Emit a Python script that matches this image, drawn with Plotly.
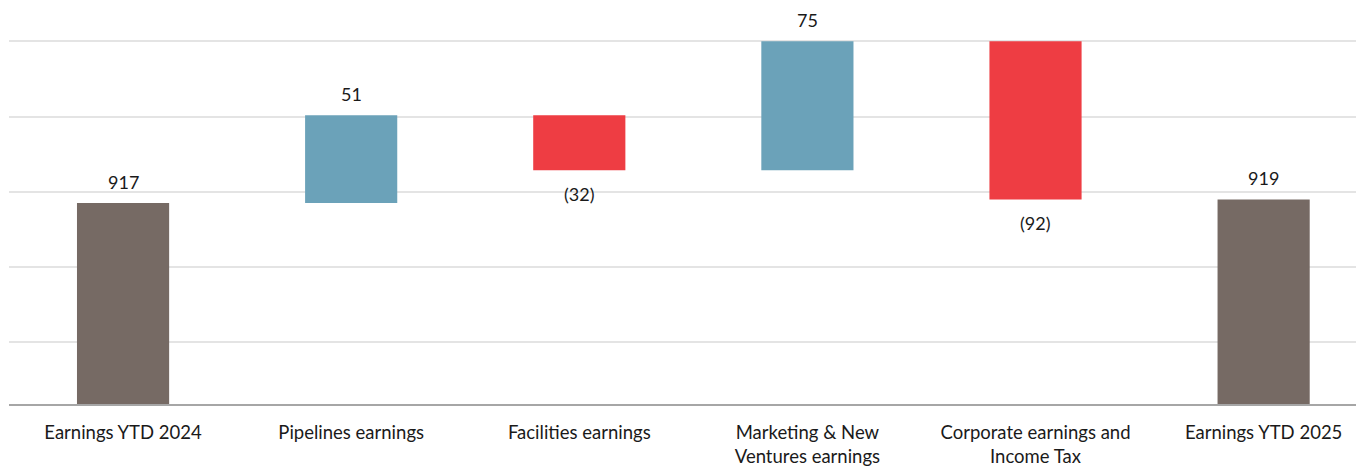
import plotly.graph_objects as go

categories = ["Earnings YTD 2024", "Pipelines earnings", "Facilities earnings",
              "Marketing & New<br>Ventures earnings", "Corporate earnings and<br>Income Tax",
              "Earnings YTD 2025"]
values = [917, 51, -32, 75, -92, 919]
measures = ["absolute", "relative", "relative", "relative", "relative", "total"]
labels = ["917", "51", "(32)", "75", "(92)", "919"]

BROWN = "#766A64"
BLUE = "#6BA2B9"
RED = "#EE3D43"
FONT = "Lato"

fig = go.Figure()
fig.add_trace(go.Waterfall(
    x=categories, y=values, measure=measures,
    increasing=dict(marker=dict(color=BLUE)),
    decreasing=dict(marker=dict(color=RED)),
    totals=dict(marker=dict(color=BROWN)),
    connector=dict(visible=False),
    textposition="none", width=0.404, hoverinfo="skip",
))

# label annotations at the bar ends
running = 0
for cat, v, m, lab in zip(categories, values, measures, labels):
    if m == "absolute":
        running = v
        end, up = v, True
    elif m == "total":
        end, up = running, True
    else:
        running += v
        end, up = running, v >= 0
    fig.add_annotation(x=cat, y=end, text=lab, showarrow=False,
                       yanchor="middle", yshift=21 if up else -24,
                       font=dict(family=FONT, size=18, color="#1a1a1a"))

fig.update_layout(
    width=1356, height=460,
    margin=dict(l=1, r=0, t=0, b=64),
    paper_bgcolor="white", plot_bgcolor="white",
    showlegend=False,
    font=dict(family=FONT, size=18.5, color="#1a1a1a"),
    xaxis=dict(range=[-0.5, 5.44], showgrid=False, showline=True,
               linecolor="#A6A6A6", linewidth=1.5, ticks="",
               ticklabelstandoff=11,
               tickfont=dict(family=FONT, size=18.5, color="#1a1a1a")),
    yaxis=dict(range=[800, 1030.4], showticklabels=False, ticks="",
               tick0=836, dtick=43.75, showgrid=True, gridcolor="#E4E4E4",
               gridwidth=1.5, zeroline=False, showline=False),
)

fig.write_html("out.html")
